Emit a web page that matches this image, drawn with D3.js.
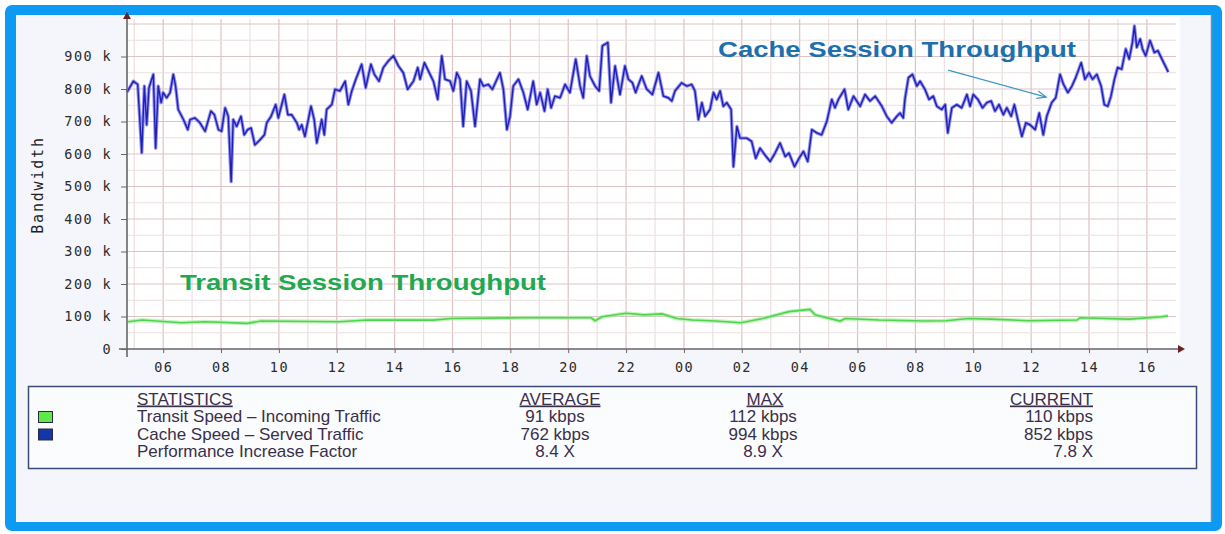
<!DOCTYPE html>
<html>
<head>
<meta charset="utf-8">
<script src="https://cdn.jsdelivr.net/npm/d3@7"></script>
<style>
  body { margin: 0; background: #fff; }
  svg { display: block; }
</style>
</head>
<body>
<script>
// hours counted from 00:00 of the first day
var cacheHours = [4.75,4.97,5.12,5.26,5.35,5.43,5.51,5.66,5.74,5.83,
  5.93,6.00,6.12,6.24,6.35,6.43,6.52,6.70,6.85,6.93,
  7.10,7.27,7.45,7.65,7.77,7.91,8.02,8.14,8.25,8.35,
  8.42,8.54,8.69,8.80,8.92,9.04,9.17,9.35,9.50,9.58,
  9.73,9.89,9.98,10.19,10.31,10.44,10.62,10.70,10.79,10.90,
  11.11,11.22,11.31,11.48,11.57,11.65,11.83,11.94,12.11,12.29,
  12.40,12.52,12.66,12.86,13.00,13.18,13.30,13.46,13.61,13.78,
  13.96,14.13,14.30,14.45,14.65,14.80,14.88,15.03,15.17,15.34,
  15.49,15.63,15.74,15.92,16.03,16.15,16.26,16.37,16.49,16.64,
  16.78,16.95,17.07,17.24,17.38,17.64,17.76,17.88,17.99,18.10,
  18.28,18.45,18.60,18.79,18.91,19.03,19.18,19.29,19.41,19.54,
  19.72,19.89,20.06,20.26,20.41,20.52,20.64,20.75,20.93,21.07,
  21.18,21.37,21.48,21.62,21.79,21.96,22.08,22.22,22.33,22.54,
  22.71,22.91,23.12,23.29,23.46,23.58,23.69,23.92,24.10,24.27,
  24.38,24.50,24.62,24.73,24.90,25.02,25.13,25.25,25.36,25.48,
  25.63,25.71,25.83,25.94,26.17,26.34,26.48,26.63,26.80,26.98,
  27.15,27.32,27.50,27.63,27.82,27.98,28.13,28.28,28.42,28.59,
  28.76,28.94,29.11,29.22,29.34,29.55,29.68,29.86,30.09,30.26,
  30.43,30.61,30.84,31.01,31.18,31.36,31.47,31.58,31.64,31.76,
  31.90,32.05,32.16,32.33,32.47,32.62,32.74,32.91,33.03,33.12,
  33.26,33.43,33.60,33.78,33.89,34.00,34.16,34.32,34.47,34.62,
  34.75,34.89,35.04,35.16,35.31,35.42,35.54,35.68,35.82,35.96,
  36.14,36.28,36.42,36.54,36.71,36.85,37.00,37.12,37.27,37.41,
  37.54,37.73,37.86,38.00,38.12,38.27,38.42,38.53,38.65,38.76,
  38.88,38.99,39.13,39.27,39.39,39.50,39.57,39.65,39.77,39.85,
  39.96,40.11,40.26,40.38,40.52,40.74];

var cacheKbps = [790,824,814,604,809,690,804,845,618,809,
  758,789,773,789,845,809,737,706,675,706,
  711,696,670,732,721,675,670,742,716,515,
  706,685,716,659,675,680,628,644,659,696,
  716,752,711,783,721,721,696,675,690,654,
  747,706,634,706,659,737,752,799,794,824,
  752,794,830,876,804,876,845,824,866,886,
  902,871,850,799,824,866,830,881,855,824,
  768,902,830,824,794,850,830,685,824,794,
  685,830,809,814,799,850,799,675,716,809,
  830,789,737,824,752,789,732,799,742,778,
  773,814,789,892,809,773,902,840,809,794,
  933,943,758,871,783,871,830,819,789,840,
  800,783,850,778,773,763,794,819,809,814,
  794,706,758,716,737,789,768,794,747,758,
  737,561,685,649,649,639,587,618,597,577,
  603,634,592,603,561,587,608,577,675,665,
  659,701,768,742,768,799,737,778,747,783,
  763,778,747,716,696,716,726,711,770,835,
  845,809,824,799,768,778,747,737,752,665,
  742,752,742,783,747,783,768,742,758,763,
  732,752,721,742,716,752,706,654,696,690,
  675,726,659,716,758,773,845,814,789,809,
  835,881,830,850,830,845,809,752,747,778,
  830,866,861,923,892,943,994,928,954,923,
  902,949,912,918,892,852];

var transitHours = [4.78,5.27,6.62,7.45,8.90,9.38,12.08,13.05,15.33,15.95,
  18.37,20.79,20.93,21.17,22.00,22.62,23.24,23.76,24.28,25.07,
  25.97,26.73,27.63,28.36,28.53,29.40,29.57,30.74,32.30,33.06,
  33.82,34.62,35.89,37.59,37.69,39.38,40.53,40.73];
var transitKbps = [84,89,81,84,79,86,84,89,89,94,
  96,96,87,99,110,105,108,94,89,86,
  81,94,115,122,105,86,94,89,86,87,
  94,92,87,89,96,92,99,102];

var xTickHours = [6,8,10,12,14,16,18,20,22,24,26,28,30,32,34,36,38,40];
var xTickLabels = ["06","08","10","12","14","16","18","20","22","00","02","04","06","08","10","12","14","16"];
var yTicks = [0,100,200,300,400,500,600,700,800,900];

var statHeaders = ["STATISTICS","AVERAGE","MAX","CURRENT"];
var statNames = ["Transit Speed \u2013 Incoming Traffic","Cache Speed \u2013 Served Traffic","Performance Increase Factor"];
var statAverage = ["91 kbps","762 kbps","8.4 X"];
var statMax = ["112 kbps","994 kbps","8.9 X"];
var statCurrent = ["110 kbps","852 kbps","7.8 X"];
var swatchColors = ["#5ee84a","#1536a8"];

var svg = d3.select("body")
  .append("svg")
  .attr("width", 1225)
  .attr("height", 534);

// blue frame + panel
svg.append("rect")
  .attr("x", 5).attr("y", 5).attr("width", 1217).attr("height", 526)
  .attr("rx", 7).attr("fill", "#0d9af2");
svg.append("rect")
  .attr("x", 16).attr("y", 15).attr("width", 1196).attr("height", 507)
  .attr("fill", "#f4f6fb");
svg.append("line")
  .attr("x1", 1211.5).attr("x2", 1211.5).attr("y1", 15).attr("y2", 522)
  .attr("stroke", "#7d8c9c").attr("stroke-width", 1.5);

var x = d3.scaleLinear()
  .domain([4.75, 40.8])
  .range([127, 1170]);

var y = d3.scaleLinear()
  .domain([0, 1000])
  .range([349, 24]);

// plot area
svg.append("rect")
  .attr("x", 127).attr("y", 17).attr("width", 1053).attr("height", 332)
  .attr("fill", "#ffffff");

var grid = svg.append("g");
grid.selectAll(".vg")
  .data(d3.range(5, 41))
  .enter().append("line")
  .attr("x1", function(d) { return x(d); })
  .attr("x2", function(d) { return x(d); })
  .attr("y1", 19).attr("y2", y(0))
  .attr("stroke", function(d) { return d % 2 == 0 ? "#dcc4c4" : "#ece0e0"; })
  .attr("stroke-width", 1.2);
grid.selectAll(".hg")
  .data(d3.range(50, 1001, 50))
  .enter().append("line")
  .attr("x1", 127).attr("x2", 1176)
  .attr("y1", function(d) { return y(d); })
  .attr("y2", function(d) { return y(d); })
  .attr("stroke", function(d) { return d % 100 == 0 ? "#dcc4c4" : "#ebdfdf"; })
  .attr("stroke-width", 1.2);

// series
var line = d3.line()
  .x(function(d) { return x(d[0]); })
  .y(function(d) { return y(d[1]); });

var transit = d3.zip(transitHours, transitKbps);
var cache = d3.zip(cacheHours, cacheKbps);

svg.append("path").datum(transit)
  .attr("d", line).attr("fill", "none")
  .attr("stroke", "#a6eea0").attr("stroke-width", 4).attr("opacity", 0.7);
svg.append("path").datum(transit)
  .attr("d", line).attr("fill", "none")
  .attr("stroke", "#4fd44f").attr("stroke-width", 1.6);

svg.append("path").datum(cache)
  .attr("d", line).attr("fill", "none")
  .attr("stroke", "#6d6cf0").attr("stroke-width", 3.4)
  .attr("stroke-linejoin", "round").attr("opacity", 0.75);
svg.append("path").datum(cache)
  .attr("d", line).attr("fill", "none")
  .attr("stroke", "#2020b0").attr("stroke-width", 1.4)
  .attr("stroke-linejoin", "round");

// axes
var yAxis = svg.append("g")
  .attr("transform", "translate(127,0)")
  .call(d3.axisLeft(y).tickValues(yTicks).tickSize(6).tickPadding(9)
    .tickFormat(function(d) { return d == 0 ? "0" : d + " k"; }));
var xAxis = svg.append("g")
  .attr("transform", "translate(0," + y(0) + ")")
  .call(d3.axisBottom(x).tickValues(xTickHours).tickSize(4).tickPadding(9)
    .tickFormat(function(d, i) { return xTickLabels[i]; }));

[yAxis, xAxis].forEach(function(a) {
  a.select(".domain").remove();
  a.selectAll("line").attr("stroke", "#666");
  a.selectAll("text")
    .attr("fill", "#2b2b2b")
    .style("font-family", "'DejaVu Sans Mono', monospace")
    .style("font-size", "13.5px")
    .style("letter-spacing", "1.4px");
});

svg.append("line")
  .attr("x1", 127).attr("x2", 127).attr("y1", 17).attr("y2", 357)
  .attr("stroke", "#666").attr("stroke-width", 1.6);
svg.append("line")
  .attr("x1", 119).attr("x2", 1180).attr("y1", y(0)).attr("y2", y(0))
  .attr("stroke", "#666").attr("stroke-width", 1.6);
svg.append("path")
  .attr("d", "M123,19 L127,12 L131,19 Z").attr("fill", "#6b2222");
svg.append("path")
  .attr("d", "M1178," + (y(0) - 4) + " L1185," + y(0) + " L1178," + (y(0) + 4) + " Z")
  .attr("fill", "#6b2222");

svg.append("text")
  .attr("transform", "translate(43,185) rotate(-90)")
  .attr("text-anchor", "middle")
  .attr("fill", "#222")
  .style("font-family", "'DejaVu Sans Mono', monospace")
  .style("font-size", "15px")
  .style("letter-spacing", "1.8px")
  .text("Bandwidth");

// annotations
svg.append("text")
  .attr("x", 718).attr("y", 57)
  .attr("textLength", 358).attr("lengthAdjust", "spacingAndGlyphs")
  .attr("fill", "#1d6fae")
  .style("font-family", "'Liberation Sans', Arial, sans-serif")
  .style("font-weight", "bold").style("font-size", "22px")
  .text("Cache Session Throughput");
svg.append("text")
  .attr("x", 180).attr("y", 290)
  .attr("textLength", 366).attr("lengthAdjust", "spacingAndGlyphs")
  .attr("fill", "#22a84e")
  .style("font-family", "'Liberation Sans', Arial, sans-serif")
  .style("font-weight", "bold").style("font-size", "22px")
  .text("Transit Session Throughput");

var x0 = x(33.13), y0 = y(858), x1 = x(36.52), y1 = y(775);
var ang = Math.atan2(y1 - y0, x1 - x0);
svg.append("line")
  .attr("x1", x0).attr("y1", y0).attr("x2", x1).attr("y2", y1)
  .attr("stroke", "#3f95c8").attr("stroke-width", 1.2);
svg.append("path")
  .attr("d", "M" + (x1 - 10 * Math.cos(ang - 0.4)) + "," + (y1 - 10 * Math.sin(ang - 0.4)) +
    " L" + x1 + "," + y1 +
    " L" + (x1 - 10 * Math.cos(ang + 0.4)) + "," + (y1 - 10 * Math.sin(ang + 0.4)))
  .attr("fill", "none").attr("stroke", "#3f95c8").attr("stroke-width", 1.2);

// statistics box
svg.append("rect")
  .attr("x", 28.5).attr("y", 386.5).attr("width", 1168).attr("height", 82)
  .attr("fill", "#fbfcfe").attr("stroke", "#3c4a78").attr("stroke-width", 1.5);

var font = "'Liberation Sans', Arial, sans-serif";
var textCol = "#3a2f4a";
var rowY = [422, 439.5, 457];

var headX = [137, 560, 765, 1093];
var headAnchor = ["start", "middle", "middle", "end"];
statHeaders.forEach(function(h, i) {
  svg.append("text")
    .attr("x", headX[i]).attr("y", 404.5)
    .attr("text-anchor", headAnchor[i])
    .attr("fill", textCol)
    .attr("text-decoration", "underline")
    .style("font-family", font).style("font-size", "17px")
    .text(h);
});

function column(vals, xx, anchor) {
  svg.selectAll(null)
    .data(vals)
    .enter().append("text")
    .attr("x", xx)
    .attr("y", function(d, i) { return rowY[i]; })
    .attr("text-anchor", anchor)
    .attr("fill", textCol)
    .style("font-family", font).style("font-size", "17px")
    .text(function(d) { return d; });
}
column(statNames, 137, "start");
column(statAverage, 555, "middle");
column(statMax, 763, "middle");
column(statCurrent, 1093, "end");

svg.selectAll(".sw")
  .data(swatchColors)
  .enter().append("rect")
  .attr("x", 38.5)
  .attr("y", function(d, i) { return rowY[i] - 10.5; })
  .attr("width", 14).attr("height", 11)
  .attr("fill", function(d) { return d; })
  .attr("stroke", "#2a2a40").attr("stroke-width", 1);
</script>
</body>
</html>
